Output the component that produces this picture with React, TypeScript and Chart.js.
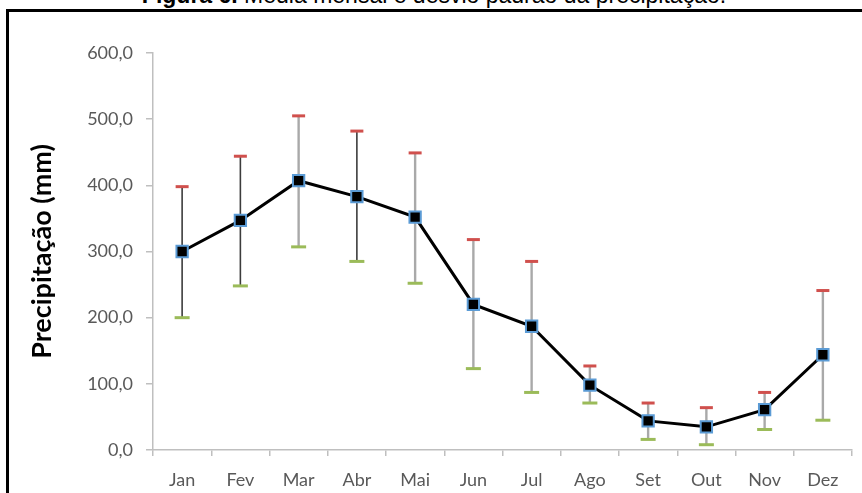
import React, { useEffect, useRef } from 'react';
import { Chart, registerables } from 'chart.js';

Chart.register(...registerables);

const months = ['Jan', 'Fev', 'Mar', 'Abr', 'Mai', 'Jun', 'Jul', 'Ago', 'Set', 'Out', 'Nov', 'Dez'];
const meanPrecip = [300, 347, 407, 383, 352, 220, 187, 98, 44, 35, 61, 144];
const upperPrecip = [398, 444, 505, 482, 449, 318, 285, 127, 71, 64, 87, 241];
const lowerPrecip = [200, 248, 307, 285, 252, 123, 87, 71, 16, 8, 31, 45];
const yTickValues = [0, 100, 200, 300, 400, 500, 600];
const darkStemMonths = ['Jan', 'Fev', 'Abr'];

const errorBarPlugin = {
  id: 'errorBars',
  beforeDatasetsDraw(chart: any) {
    const { ctx, scales } = chart;
    const x = scales.x;
    const y = scales.y;
    ctx.save();
    months.forEach((m, i) => {
      const px = x.getPixelForValue(i);
      const yTop = y.getPixelForValue(upperPrecip[i]);
      const yBot = y.getPixelForValue(lowerPrecip[i]);
      const dark = darkStemMonths.includes(m);
      ctx.strokeStyle = dark ? '#3c3c3c' : '#a9a9a9';
      ctx.lineWidth = dark ? 1.6 : 2.4;
      ctx.beginPath();
      ctx.moveTo(px, yTop);
      ctx.lineTo(px, yBot);
      ctx.stroke();
      ctx.lineWidth = 3;
      ctx.strokeStyle = '#d0504d';
      ctx.beginPath();
      ctx.moveTo(px - 6.5, yTop);
      ctx.lineTo(px + 6.5, yTop);
      ctx.stroke();
      ctx.strokeStyle = '#9bbb59';
      ctx.beginPath();
      ctx.moveTo(px - 7.5, yBot);
      ctx.lineTo(px + 7.5, yBot);
      ctx.stroke();
    });
    ctx.restore();
  },
};

export default function App() {
  const canvasRef = useRef<HTMLCanvasElement | null>(null);

  useEffect(() => {
    const canvas = canvasRef.current;
    if (!canvas) return;
    const chart = new Chart(canvas, {
      type: 'line',
      data: {
        labels: months,
        datasets: [
          {
            label: 'Precipitação média',
            data: meanPrecip,
            borderColor: '#000000',
            borderWidth: 3,
            tension: 0,
            pointStyle: 'rect',
            pointRadius: 8,
            pointBackgroundColor: '#000000',
            pointBorderColor: '#5b9bd5',
            pointBorderWidth: 2,
            fill: false,
          },
        ],
      },
      options: {
        animation: false,
        responsive: false,
        devicePixelRatio: 1,
        layout: { padding: { top: 53, right: 2, left: 0, bottom: 0 } },
        plugins: {
          legend: { display: false },
          tooltip: { enabled: false },
          title: { display: false },
        },
        scales: {
          x: {
            type: 'category',
            offset: true,
            grid: {
              offset: true,
              drawOnChartArea: false,
              drawTicks: true,
              tickLength: 6,
              color: '#bfbfbf',
              lineWidth: 1.5,
            },
            border: { color: '#bfbfbf', width: 1.5 },
            ticks: {
              color: '#595959',
              font: { family: 'Lato', size: 18 },
              padding: 13,
              maxRotation: 0,
              autoSkip: false,
            },
            afterFit: (scale: any) => {
              scale.height = 43;
            },
          },
          y: {
            min: 0,
            max: 600,
            afterBuildTicks: (scale: any) => {
              scale.ticks = yTickValues.map((v) => ({ value: v }));
            },
            grid: {
              drawOnChartArea: false,
              drawTicks: true,
              tickLength: 7,
              color: '#bfbfbf',
              lineWidth: 1.5,
            },
            border: { color: '#bfbfbf', width: 1.5 },
            ticks: {
              color: '#595959',
              font: { family: 'Lato', size: 18 },
              padding: 13,
              callback: (v: any) => Number(v).toFixed(1).replace('.', ','),
            },
            title: {
              display: true,
              text: 'Precipitação (mm)',
              color: '#000000',
              font: { family: 'Lato', size: 27, weight: 'bold' },
              padding: { top: 26, bottom: 0 },
            },
            afterFit: (scale: any) => {
              scale.width = 153;
            },
          },
        },
      },
      plugins: [errorBarPlugin],
    });
    return () => chart.destroy();
  }, []);

  return (
    <div
      style={{
        position: 'absolute',
        left: 0,
        top: 0,
        width: 862,
        height: 493,
        overflow: 'hidden',
        background: '#ffffff',
      }}
    >
      <div
        style={{
          position: 'absolute',
          left: 0,
          top: -16,
          width: 868,
          textAlign: 'center',
          fontFamily: '"Liberation Sans", Arial, sans-serif',
          fontSize: 23,
          lineHeight: '23px',
          color: '#000000',
          whiteSpace: 'nowrap',
        }}
      >
        <b>Figura 6.</b> Média mensal e desvio padrão da precipitação.
      </div>
      <div
        style={{
          position: 'absolute',
          left: 6,
          top: 9,
          width: 1000,
          height: 1000,
          borderLeft: '3px solid #000000',
          borderTop: '3px solid #000000',
        }}
      />
      <canvas
        ref={canvasRef}
        width={862}
        height={493}
        style={{ position: 'absolute', left: 0, top: 0, width: 862, height: 493 }}
      />
    </div>
  );
}
